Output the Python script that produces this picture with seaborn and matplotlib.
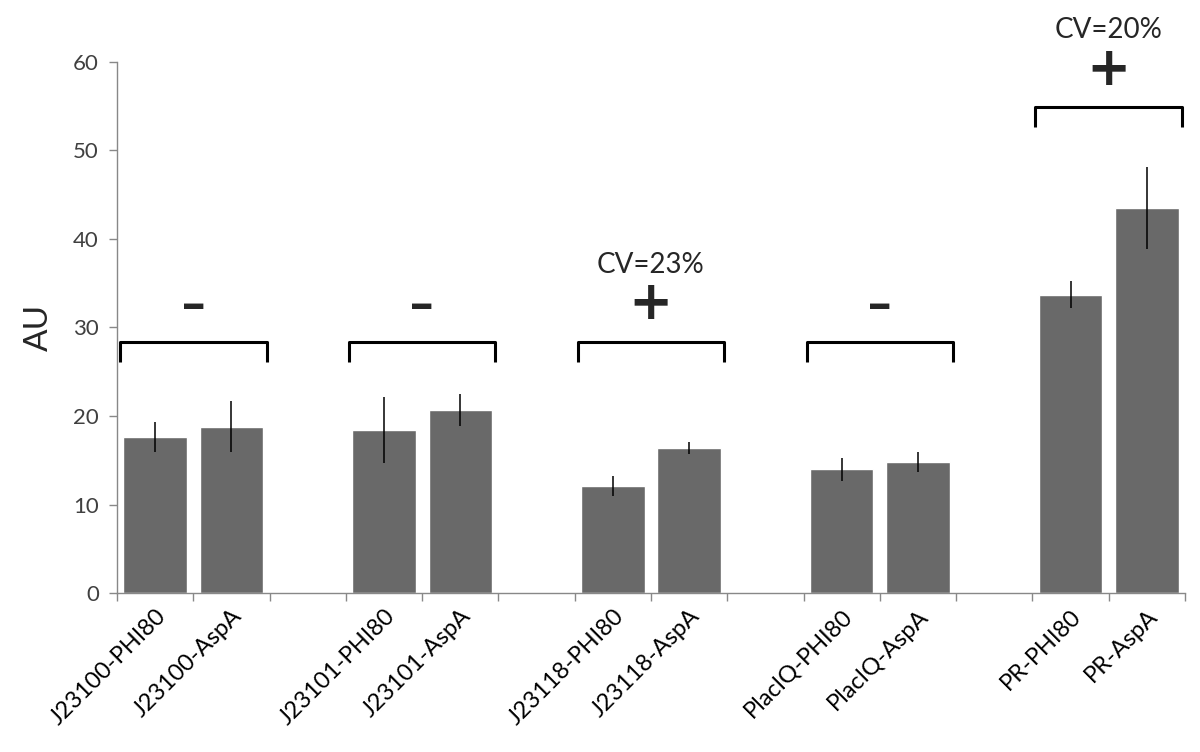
import numpy as np
import pandas as pd
import seaborn as sns
import matplotlib.pyplot as plt

# bar data
constructs = ['J23100-PHI80', 'J23100-AspA', 'J23101-PHI80', 'J23101-AspA',
              'J23118-PHI80', 'J23118-AspA', 'PlacIQ-PHI80', 'PlacIQ-AspA',
              'PR-PHI80', 'PR-AspA']
values = [17.6, 18.8, 18.4, 20.7, 12.1, 16.4, 14.0, 14.8, 33.7, 43.5]
errors = [1.7, 2.9, 3.7, 1.8, 1.1, 0.7, 1.3, 1.1, 1.5, 4.6]

# one bracket per promoter pair
group_signs = ['-', '-', '+', '-', '+']
group_cv = ['', '', 'CV=23%', '', 'CV=20%']
bracket_levels = [28.4, 28.4, 28.4, 28.4, 54.9]

# slot order with empty spacer slots between pairs
order = []
for i in range(0, len(constructs), 2):
    order += [constructs[i], constructs[i + 1]]
    if i + 2 < len(constructs):
        order.append(' ' * (i // 2 + 1))

df = pd.DataFrame({'construct': constructs, 'value': values, 'err': errors})

sns.set_style('white')
plt.rcParams['font.family'] = ['Lato', 'DejaVu Sans']

fig = plt.figure(figsize=(12, 7.52), dpi=100)
ax = fig.add_axes([0.0975, 0.2114, 0.89, 0.7062])

sns.barplot(data=df, x='construct', y='value', order=order, color='#696969',
            saturation=1, width=0.83, errorbar=None, ax=ax)

pos = {name: i for i, name in enumerate(order)}
xs = [pos[c] for c in constructs]
ax.errorbar(xs, values, yerr=errors, fmt='none', ecolor='black', elinewidth=1.1, capsize=0)

ax.set_xlim(-0.5, len(order) - 0.5)
ax.set_ylim(0, 60)
ax.set_yticks(range(0, 61, 10))
ax.set_xticks(range(len(order)))
ax.set_xticklabels([o.strip() for o in order], rotation=45, ha='right',
                   rotation_mode='anchor', fontsize=17, color='black')
ax.set_xticks(np.arange(-0.5, len(order), 1), minor=True)
ax.tick_params(axis='x', which='major', length=0, pad=9)
ax.tick_params(axis='x', which='minor', length=6, color='#888888', width=1, direction='out', bottom=True)
ax.tick_params(axis='y', length=6, color='#888888', width=1, direction='out', left=True,
               labelsize=16, labelcolor='#404040', pad=7)
ax.set_xlabel('')
ax.set_ylabel('AU', fontsize=24, labelpad=14)

sns.despine(ax=ax)
for s in ['left', 'bottom']:
    ax.spines[s].set_color('#888888')
    ax.spines[s].set_linewidth(1)

# brackets and significance marks
for g, (sign, cv, lev) in enumerate(zip(group_signs, group_cv, bracket_levels)):
    a = xs[2 * g] - 0.46
    b = xs[2 * g + 1] + 0.46
    ax.plot([a, a, b, b], [lev - 2.3, lev, lev, lev - 2.3], color='black', lw=2.2,
            solid_joinstyle='round', solid_capstyle='butt', clip_on=False)
    mid = (a + b) / 2
    if sign == '+':
        ax.text(mid, lev + 4.2, '+', ha='center', va='center', fontsize=38,
                fontweight='semibold', family='DejaVu Sans', clip_on=False)
    else:
        ax.text(mid, lev + 3.9, '\u2013', ha='center', va='center', fontsize=34,
                fontweight='heavy', clip_on=False)
    if cv:
        ax.text(mid, lev + 8.7, cv, ha='center', va='center', fontsize=20, clip_on=False)

fig.savefig('out.png', dpi=100)
